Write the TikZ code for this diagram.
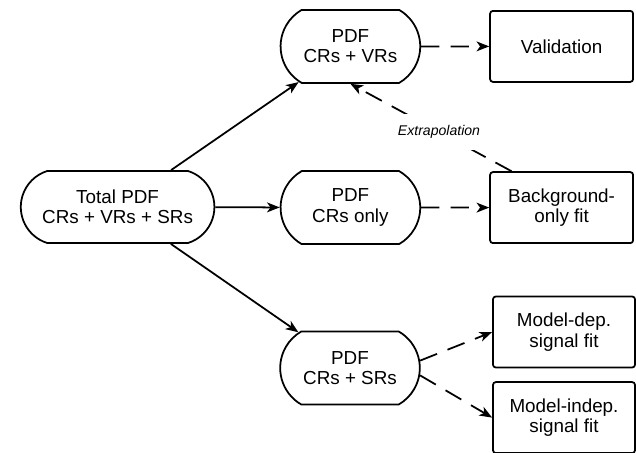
\documentclass[tikz,border=0pt]{standalone}
\usepackage{fontspec}
\setmainfont{Liberation Sans}
\usetikzlibrary{arrows.meta, positioning, shapes.misc}
\tikzset{->, >={Stealth[length=9pt, width=7pt, inset=2.5pt]}, every picture/.style={line width=1.25pt},
    every node/.style={font=\fontsize{13.4}{14.5}\selectfont, align=center},
    pdfbox/.style={draw, rounded rectangle, rounded rectangle arc length=120, minimum width=3.725cm, minimum height=1.825cm},
    result/.style={draw, rounded corners=2pt, minimum width=3.575cm, minimum height=1.775cm},
    dashline/.style={dash pattern=on 13pt off 8pt},
    extrap/.style={fill=white, inner xsep=2pt, inner ysep=8pt, font=\fontsize{10}{12}\selectfont\itshape},}

\begin{document}
\begin{tikzpicture}
        \useasboundingbox (0,0) rectangle (15.9,-11.325);
        \node[pdfbox, rounded rectangle arc length=145, minimum width=5.075cm, minimum height=1.8cm] at (2.94,-5.175) (total) {Total PDF\\CRs + VRs + SRs};
        \node[pdfbox] at (8.76,-1.16) (crvr) {PDF\\CRs + VRs};
        \node[pdfbox] at (8.76,-5.19) (cronly) {PDF\\CRs only};
        \node[pdfbox] at (8.75,-9.2) (crsr) {PDF\\CRs + SRs};
        \node[result] at (14.04,-1.16) (valid) {Validation};
        \node[result] at (14.04,-5.19) (bgfit) {Background-\\only fit};
        \node[result, minimum width=3.55cm] at (14.1,-8.3) (mdep) {Model-dep.\\signal fit};
        \node[result, minimum width=3.55cm] at (14.1,-10.44) (mindep) {Model-indep.\\signal fit};

        \path (total) edge (crvr)
              (total) edge (cronly)
              (total) edge (crsr)
              (crvr) edge[dashline] (valid)
              (cronly) edge[dashline] (bgfit)
              (crsr.6) edge[dashline] (mdep.west)
              (crsr.-6) edge[dashline] (mindep.west)
              (bgfit.144) edge[dashline] node[extrap, pos=0.45] {Extrapolation} (crvr.south);
\end{tikzpicture}
\end{document}
